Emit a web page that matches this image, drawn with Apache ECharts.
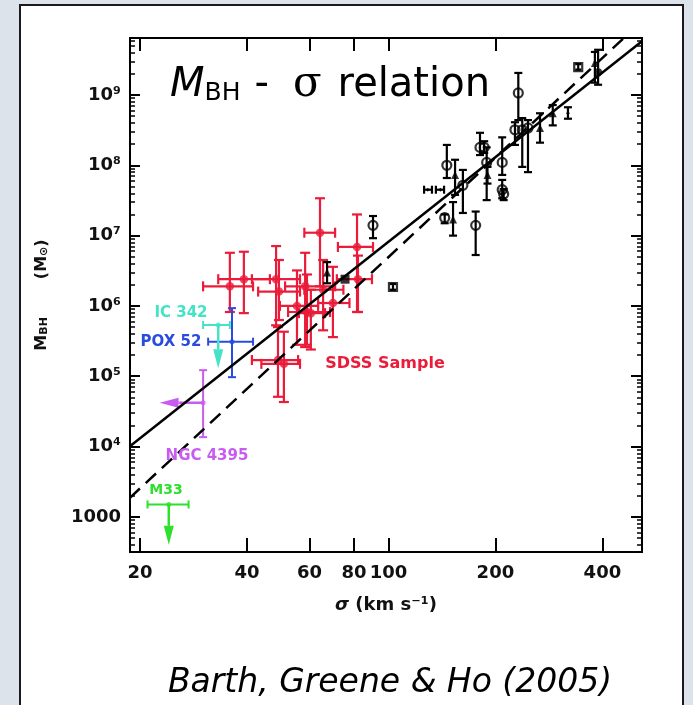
<!DOCTYPE html>
<html>
<head>
<meta charset="utf-8">
<title>MBH - sigma relation</title>
<script src="https://cdn.jsdelivr.net/npm/echarts@6/dist/echarts.min.js"></script>
<style>
  html, body { margin: 0; padding: 0; background: #dce3ea; }
  #chart { width: 693px; height: 705px; }
</style>
</head>
<body>
<div id="chart"></div>
<script>
// sigma in km/s, mass in solar masses
// rows: [sigma, sigmaLo, sigmaHi, mass, massLo, massHi]  (null = no error bar)
const sdssSample = [
  [35.8, 30.1, 41.6, 1.9e6, 8.2e5, 5.7e6],
  [39.2, 33.2, 46.4, 2.4e6, 7.9e5, 5.9e6],
  [48.3, 41.3, 56.4, 2.4e6, 5.3e5, 7.1e6],
  [49.2, 43.0, 56.4, 1.6e6, 6.3e5, 4.5e6],
  [58.3, 51.2, 70.8, 1.9e6, 2.6e5, 5.7e6],
  [55.3, 49.5, 63.4, 1.0e6, 2.8e5, 3.2e6],
  [59.0, 52.2, 68.5, 8.2e5, 2.8e5, 2.8e6],
  [60.5, 56.0, 66.3, 7.9e5, 2.4e5, 1.7e6],
  [64.2, 58.0, 70.8, 1.1e7, 1.9e6, 3.4e7],
  [81.6, 72.1, 90.5, 6.9e6, 8.2e5, 2.0e7],
  [82.1, 71.6, 89.9, 2.4e6, 8.2e5, 5.2e6],
  [65.5, 58.0, 74.7, 1.7e6, 4.5e5, 4.5e6],
  [69.8, 63.4, 77.7, 1.1e6, 3.6e5, 3.6e6],
  [48.9, 41.3, 55.7, 1.7e5, 5.1e4, 5.0e5],
  [50.8, 43.9, 56.4, 1.5e5, 4.3e4, 4.3e5]
];

const openCircles = [
  [90.5, null, null, 1.4e7, 9.2e6, 1.9e7],
  [144, null, null, 1.8e7, 1.5e7, 2.0e7],
  [146, null, null, 1.0e8, 6.6e7, 1.95e8],
  [162, null, null, 5.2e7, 2.1e7, 8.6e7],
  [176, null, null, 1.4e7, 5.3e6, 2.2e7],
  [181, null, null, 1.8e8, 1.4e8, 2.9e8],
  [186, null, null, 1.8e8, 1.5e8, 2.2e8],
  [189, null, null, 1.1e8, 3.2e7, 1.8e8],
  [209, null, null, 1.1e8, 7.3e7, 2.5e8],
  [209, null, null, 4.5e7, 3.4e7, 6.2e7],
  [211, null, null, 3.9e7, 3.2e7, 4.6e7],
  [232, null, null, 1.07e9, 4.4e8, 2.06e9],
  [227, null, null, 3.2e8, 1.95e8, 4.1e8],
  [238, null, null, 3.2e8, 9.5e7, 4.7e8],
  [247, null, null, 3.4e8, 8.0e7, 4.4e8]
];

const filledCircles = [
  [389, null, null, 2.1e9, 1.4e9, 4.4e9]
];

const openSquares = [
  [103, null, null, 1.86e6, 1.7e6, 2.05e6],
  [342, null, null, 2.5e9, 2.3e9, 2.75e9]
];

const filledSquares = [
  [75.5, null, null, 2.4e6, null, null]
];

const filledTriangles = [
  [67.2, null, null, 3.0e6, 2.1e6, 4.2e6],
  [152, null, null, 1.7e7, 1.0e7, 3.0e7],
  [154, null, null, 7.3e7, 3.8e7, 1.2e8],
  [190, null, null, 7.3e7, 5.5e7, 9.5e7],
  [267, null, null, 3.4e8, 2.1e8, 5.5e8],
  [290, null, null, 5.5e8, 3.7e8, 7.2e8],
  [381, null, null, 2.85e9, 1.5e9, 4.1e9]
];

const barsOnly = [
  [320, null, null, 5.5e8, 4.6e8, 6.7e8],
  [129, 126, 132.6, 4.5e7, null, null],
  [140, 136, 143.4, 4.5e7, null, null]
];

const ic342 = [[33.2, 30.1, 35.8, 5.35e5, null, null]];
const pox52 = [[36.3, 31.1, 41.6, 3.1e5, 9.7e4, 9.3e5]];
const ngc4395 = [[30.1, null, null, 4.2e4, 1.36e4, 1.22e5]];
const m33 = [[24.1, 21.0, 27.4, 1.5e3, null, null]];

// upper limits: [sigma, mass, sigmaEnd, massEnd]
const ic342Limit = [[33.2, 5.35e5, 33.2, 1.3e5]];
const ngc4395Limit = [[30.1, 4.2e4, 22.7, 4.2e4]];
const m33Limit = [[24.1, 1.5e3, 24.1, 400]];

// fitted relations, end points
const fitTremaine = [[18.7, 1.0e4], [517, 5.8e9]];
const fitFerrarese = [[18.7, 1.85e3], [460, 6.5e9]];

const xTicks = [20, 40, 60, 80, 100, 200, 400];
const yTicks = [1e3, 1e4, 1e5, 1e6, 1e7, 1e8, 1e9];
const yTickLabels = ['1000', '10⁴', '10⁵', '10⁶', '10⁷', '10⁸', '10⁹'];

const lg = Math.log10;
const X_MIN = 1.2729, X_MAX = 2.7135;
const Y_MIN = 2.5, Y_MAX = 9.811;

const yMinorTicks = [];
for (let d = 2; d <= 9; d++) {
  for (let k = 2; k <= 9; k++) yMinorTicks.push(lg(k) + d);
}

function toLog(rows) {
  return rows.map(r => [
    lg(r[0]), lg(r[3]),
    lg(r[1] ?? r[0]), lg(r[2] ?? r[0]),
    lg(r[4] ?? r[3]), lg(r[5] ?? r[3])
  ]);
}

function errorBars(color, lw, cap) {
  return function (params, api) {
    const x = api.value(0), y = api.value(1);
    const style = { stroke: color, lineWidth: lw };
    const children = [];
    const xl = api.value(2), xh = api.value(3), yl = api.value(4), yh = api.value(5);
    if (yl !== yh) {
      const a = api.coord([x, yl]), b = api.coord([x, yh]);
      children.push({ type: 'line', shape: { x1: a[0], y1: a[1], x2: b[0], y2: b[1] }, style });
      [a, b].forEach(p => children.push({
        type: 'line', shape: { x1: p[0] - cap, y1: p[1], x2: p[0] + cap, y2: p[1] }, style
      }));
    }
    if (xl !== xh) {
      const a = api.coord([xl, y]), b = api.coord([xh, y]);
      children.push({ type: 'line', shape: { x1: a[0], y1: a[1], x2: b[0], y2: b[1] }, style });
      [a, b].forEach(p => children.push({
        type: 'line', shape: { x1: p[0], y1: p[1] - cap, x2: p[0], y2: p[1] + cap }, style
      }));
    }
    return { type: 'group', children };
  };
}

function arrow(color) {
  return function (params, api) {
    const p = api.coord([api.value(0), api.value(1)]);
    const q = api.coord([api.value(2), api.value(3)]);
    const dx = q[0] - p[0], dy = q[1] - p[1];
    const len = Math.hypot(dx, dy);
    const ux = dx / len, uy = dy / len;
    const hl = 19, hw = 5;
    const bx = q[0] - ux * hl, by = q[1] - uy * hl;
    return {
      type: 'group',
      children: [
        { type: 'line', shape: { x1: p[0], y1: p[1], x2: bx, y2: by }, style: { stroke: color, lineWidth: 2.5 } },
        {
          type: 'polygon',
          shape: { points: [[q[0], q[1]], [bx - uy * hw, by + ux * hw], [bx + uy * hw, by - ux * hw]] },
          style: { fill: color }
        }
      ]
    };
  };
}

function group(rows, color, symbol, size, filled, lw, cap) {
  const data = toLog(rows);
  return [
    { type: 'custom', renderItem: errorBars(color, lw, cap), data, z: 3, silent: true },
    {
      type: 'scatter', data, symbol, symbolSize: size, z: 4, silent: true,
      itemStyle: filled
        ? { color, borderWidth: 0 }
        : { color: 'rgba(0,0,0,0)', borderColor: color, borderWidth: lw }
    }
  ];
}

function limit(rows, color) {
  return {
    type: 'custom', renderItem: arrow(color), z: 3, silent: true,
    data: rows.map(r => [lg(r[0]), lg(r[1]), lg(r[2]), lg(r[3])])
  };
}

const RED = '#ea1c3a', CYAN = '#44e2c6', BLUE = '#2a4be0', VIOLET = '#c85cf0', GREEN = '#2de02d';
const labelFont = 'DejaVu Sans';

const xAxisBase = {
  type: 'value', min: X_MIN, max: X_MAX, splitLine: { show: false },
  axisLine: { show: false, onZero: false }
};
const yAxisBase = {
  type: 'value', min: Y_MIN, max: Y_MAX, splitLine: { show: false },
  axisLine: { show: false, onZero: false }
};
const tickStyle = { color: '#000', width: 2 };

const chart = echarts.init(document.getElementById('chart'));
chart.setOption({
  backgroundColor: '#dce3ea',
  animation: false,
  grid: {
    left: 130, right: 51, top: 38, bottom: 153,
    show: true, borderColor: '#000', borderWidth: 2, backgroundColor: 'transparent'
  },
  xAxis: [
    Object.assign({}, xAxisBase, {
      position: 'bottom',
      axisTick: { inside: true, length: 14, lineStyle: tickStyle, customValues: xTicks.map(lg) },
      axisLabel: {
        customValues: xTicks.map(lg), margin: 12,
        formatter: v => String(Math.round(Math.pow(10, v))),
        fontFamily: labelFont, fontWeight: 'bold', fontSize: 18, color: '#111'
      },
      name: '{g|σ} (km s⁻¹)', nameLocation: 'middle', nameGap: 44,
      nameTextStyle: {
        fontFamily: labelFont, fontWeight: 'bold', fontSize: 18, color: '#111',
        rich: { g: { fontFamily: labelFont, fontWeight: 'bold', fontStyle: 'italic', fontSize: 18, color: '#111' } }
      }
    }),
    Object.assign({}, xAxisBase, {
      position: 'top',
      axisTick: { inside: true, length: 13, lineStyle: tickStyle, customValues: xTicks.map(lg) },
      axisLabel: { show: false }
    })
  ],
  yAxis: [
    Object.assign({}, yAxisBase, {
      position: 'left',
      axisTick: { inside: true, length: 10, lineStyle: tickStyle, customValues: yTicks.map(lg) },
      axisLabel: {
        customValues: yTicks.map(lg), margin: 9,
        formatter: v => yTickLabels[Math.round(v) - 3],
        fontFamily: labelFont, fontWeight: 'bold', fontSize: 18, color: '#111'
      },
      name: '{m|M}{s|BH}{gap|}{m|(M}{s|⊙}{m|)}', nameLocation: 'middle', nameRotate: 90, nameGap: 80,
      nameTextStyle: {
        rich: {
          m: { fontFamily: labelFont, fontWeight: 'bold', fontSize: 16, color: '#111', lineHeight: 20, verticalAlign: 'bottom' },
          s: { fontFamily: labelFont, fontWeight: 'bold', fontSize: 11, color: '#111', lineHeight: 12, verticalAlign: 'bottom' },
          gap: { width: 38 }
        }
      }
    }),
    Object.assign({}, yAxisBase, {
      position: 'left',
      axisTick: { inside: true, length: 5, lineStyle: { color: '#000', width: 1.5 }, customValues: yMinorTicks },
      axisLabel: { show: false }
    }),
    Object.assign({}, yAxisBase, {
      position: 'right',
      axisTick: { inside: true, length: 11, lineStyle: tickStyle, customValues: yTicks.map(lg) },
      axisLabel: { show: false }
    }),
    Object.assign({}, yAxisBase, {
      position: 'right',
      axisTick: { inside: true, length: 5, lineStyle: { color: '#000', width: 1.5 }, customValues: yMinorTicks },
      axisLabel: { show: false }
    })
  ],
  graphic: [
    {
      type: 'rect', z: -10, silent: true,
      shape: { x: 20, y: 5, width: 663, height: 720 },
      style: { fill: '#fff', stroke: '#1a1a1a', lineWidth: 2 }
    },
    {
      type: 'text', left: 170, top: 64, z: 10,
      style: {
        text: '{m|M}{s|BH}{g1|}{r|-}{g2|}{g|σ}{g3|}{r|relation}',
        rich: {
          m: { fontFamily: 'DejaVu Sans', fontStyle: 'italic', fontSize: 40, lineHeight: 44, verticalAlign: 'bottom', fill: '#000' },
          s: { fontFamily: 'DejaVu Sans', fontSize: 25, lineHeight: 12, verticalAlign: 'bottom', fill: '#000' },
          r: { fontFamily: 'DejaVu Sans', fontSize: 40, lineHeight: 44, verticalAlign: 'bottom', fill: '#000' },
          g: { fontFamily: 'DejaVu Serif', fontSize: 42, lineHeight: 44, verticalAlign: 'bottom', fill: '#000' },
          g1: { width: 14 },
          g2: { width: 24 },
          g3: { width: 16 }
        }
      }
    },
    {
      type: 'text', x: 390, y: 683, z: 10,
      style: {
        text: 'Barth, Greene & Ho (2005)', align: 'center', verticalAlign: 'middle',
        font: 'italic 33px "DejaVu Sans"', fill: '#000'
      }
    },
    {
      type: 'text', x: 181, y: 313, z: 10,
      style: { text: 'IC 342', align: 'center', verticalAlign: 'middle', font: 'bold 15px "DejaVu Sans"', fill: CYAN }
    },
    {
      type: 'text', x: 171, y: 342, z: 10,
      style: { text: 'POX 52', align: 'center', verticalAlign: 'middle', font: 'bold 15px "DejaVu Sans"', fill: BLUE }
    },
    {
      type: 'text', x: 207, y: 456, z: 10,
      style: { text: 'NGC 4395', align: 'center', verticalAlign: 'middle', font: 'bold 15px "DejaVu Sans"', fill: VIOLET }
    },
    {
      type: 'text', x: 166, y: 490, z: 10,
      style: { text: 'M33', align: 'center', verticalAlign: 'middle', font: 'bold 14px "DejaVu Sans"', fill: GREEN }
    },
    {
      type: 'text', x: 385, y: 364, z: 10,
      style: { text: 'SDSS Sample', align: 'center', verticalAlign: 'middle', font: 'bold 16px "DejaVu Sans"', fill: RED }
    }
  ],
  series: [
    {
      type: 'line', data: fitTremaine.map(p => [lg(p[0]), lg(p[1])]), showSymbol: false, silent: true, z: 5,
      lineStyle: { color: '#000', width: 2.5 }
    },
    {
      type: 'line', data: fitFerrarese.map(p => [lg(p[0]), lg(p[1])]), showSymbol: false, silent: true, z: 5,
      lineStyle: { color: '#000', width: 2.5, type: [14, 8] }
    },
    ...group(sdssSample, RED, 'circle', 8.5, true, 2.2, 5),
    ...group(openCircles, '#000', 'circle', 9, false, 2.2, 4),
    ...group(filledCircles, '#000', 'circle', 8, true, 2.2, 4),
    ...group(openSquares, '#000', 'rect', 8, false, 2.2, 3),
    ...group(filledSquares, '#000', 'rect', 9, true, 2.2, 3),
    ...group(filledTriangles, '#000', 'triangle', 8, true, 2.2, 4),
    ...group(barsOnly, '#000', 'diamond', 4, true, 2.2, 4),
    ...group(ic342, CYAN, 'circle', 5, true, 2, 4),
    ...group(pox52, BLUE, 'circle', 5, true, 2, 4),
    ...group(ngc4395, VIOLET, 'circle', 5, true, 2, 4),
    ...group(m33, GREEN, 'circle', 5, true, 2, 4),
    limit(ic342Limit, CYAN),
    limit(ngc4395Limit, VIOLET),
    limit(m33Limit, GREEN)
  ]
});
</script>
</body>
</html>
